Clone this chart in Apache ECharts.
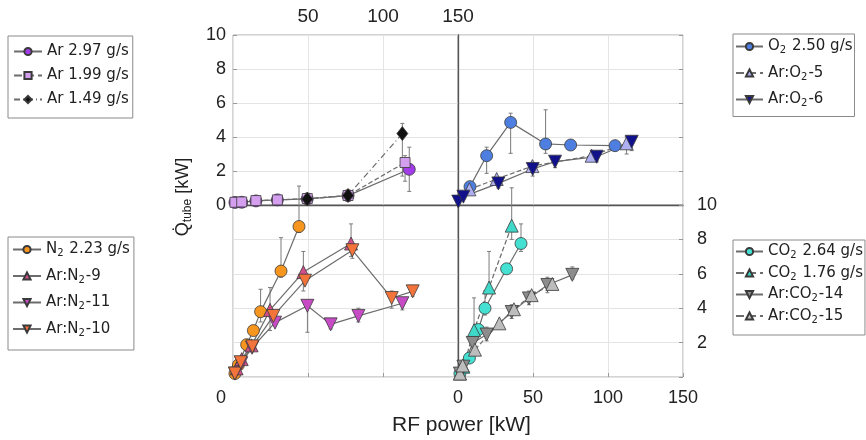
<!DOCTYPE html>
<html><head><meta charset="utf-8">
<script src="https://cdn.jsdelivr.net/npm/echarts@6/dist/echarts.min.js"></script>
<style>html,body{margin:0;padding:0;background:#fff}#c{width:866px;height:440px}</style>
</head><body><div id="c"></div>
<script>
// ---- axis ticks ----
const xTicks = [0, 50, 100, 150];
const yTicks = [0, 2, 4, 6, 8, 10];

// ---- top-left: argon ----
const ar297 = [[1.3,0.15],[5.8,0.16],[15.3,0.24],[29.6,0.3],[49.5,0.36],[76.7,0.55],[117.5,2.1]];
const ar199 = [[1.3,0.16],[5.8,0.18],[15.3,0.26],[29.6,0.3],[49.5,0.38],[76.7,0.56],[114.7,2.5]];
const ar149 = [[49.5,0.35],[76.7,0.56],[112.9,4.2]];
const errTL = [[117.5,0.8,3.4],[114.7,1.4,2.9],[112.9,1.7,4.8],[15.3,0.05,0.4],[29.6,0.1,0.45],[76.7,0.3,0.8]];

// ---- top-right: oxygen ----
const o2250 = [[8,1.08],[19.1,2.9],[35.1,4.86],[58.4,3.59],[75.1,3.53],[104.7,3.49]];
const arO2_5 = [[7.6,0.92],[25.8,1.53],[49.6,2.29],[89.1,2.9],[112.4,3.63]];
const arO2_6 = [[0.2,0.2],[3.6,0.49],[26.9,1.27],[49.8,2.12],[64.7,2.55],[92.4,2.84],[115.8,3.72]];
const errTR = [[19.1,1.86,3.4],[35.1,3.04,5.4],[58.4,3.04,5.6],[8,0.8,1.3],[26.9,1.0,1.6],[49.8,1.7,2.5],[64.7,2.2,2.8],[92.4,2.6,3.1],[115.8,3.2,4.0],[112.4,3.0,4.0]];

// ---- bottom-left: nitrogen ----
const n2223 = [[1.3,0.2],[3.6,0.7],[9.1,1.88],[13.6,2.7],[18.4,3.8],[32,6.16],[44,8.75]];
const arN2_9 = [[2.4,0.5],[5.8,1.04],[12.4,1.84],[24.7,3.9],[46.9,6.1],[78.7,7.76]];
const arN2_11 = [[1.3,0.2],[5.5,0.8],[12.7,1.7],[28,3.16],[49.6,4.14],[65.1,3.06],[83.6,3.55],[112.9,4.29]];
const arN2_10 = [[1.3,0.2],[5.1,0.86],[12.9,1.78],[26.9,3.55],[48,5.6],[79.6,7.37],[105.8,4.59],[119.8,4.98]];
const errBL = [[44,8.4,11.1],[32,5.8,8.1],[18.4,3.2,5.1],[24.7,2.7,5.2],[78.7,7.0,8.9],[46.9,5.0,7.3],[49.6,2.6,4.4],[65.1,2.8,3.4],[83.6,3.2,4.0],[112.9,3.9,4.6],[105.8,4.0,5.0],[119.8,4.7,5.3],[79.6,6.9,7.7]];

// ---- bottom-right: carbon dioxide ----
const co2264 = [[1.3,0.2],[7.6,1.1],[13.6,2.76],[18,4.0],[32.4,6.29],[42,7.76]];
const co2176 = [[1.3,0.2],[3.6,0.6],[10.7,2.72],[20.7,5.2],[35.8,8.8]];
const arCO2_14 = [[1.3,0.2],[3.6,0.6],[9.8,1.98],[19.1,2.47],[35.8,3.78],[47.3,4.57],[59.6,5.35],[76.2,5.94]];
const arCO2_15 = [[1.3,0.2],[3.1,0.67],[11.3,1.59],[27.6,3.12],[37.3,3.94],[49.1,4.76],[62.9,5.41]];
const errBR = [[42,7.3,8.9],[35.8,8.0,11.0],[20.7,5.0,7.3],[10.7,2.7,4.6],[18,3.6,5.0],[76.2,5.7,6.4],[59.6,4.9,5.8],[47.3,4.2,5.0],[35.8,3.4,4.2],[19.1,2.1,2.9]];

// ---- legend names ----
const legTL = ['Ar 2.97 g/s', 'Ar 1.99 g/s', 'Ar 1.49 g/s'];
const legTR = ['O_2 2.50 g/s', 'Ar:O_2-5', 'Ar:O_2-6'];
const legBL = ['N_2 2.23 g/s', 'Ar:N_2-9', 'Ar:N_2-11', 'Ar:N_2-10'];
const legBR = ['CO_2 2.64 g/s', 'CO_2 1.76 g/s', 'Ar:CO_2-14', 'Ar:CO_2-15'];

// ---- axis titles ----
const xTitle = 'RF power [kW]';
const yTitle = 'Q\u0307{s|tube} [kW]';

const chart = echarts.init(document.getElementById('c'), null, {renderer: 'canvas'});

const LINE = '#6c6c6c';
function S(name, data, xi, yi, symbol, size, color, dash, rot) {
  return {
    name, type: 'line', data, xAxisIndex: xi, yAxisIndex: yi, symbol, symbolSize: size,
    symbolRotate: rot || 0, clip: false, z: 3,
    lineStyle: {color: LINE, width: 1.2, type: dash},
    itemStyle: {color, borderColor: '#3a3a3a', borderWidth: 0.8},
    emphasis: {disabled: true}
  };
}
function E(data, xi, yi) {
  return {
    type: 'custom', data, xAxisIndex: xi, yAxisIndex: yi, clip: false, silent: true, z: 2,
    encode: {x: 0, y: [1, 2]},
    renderItem(params, api) {
      const x = api.value(0);
      const a = api.coord([x, api.value(1)]);
      const b = api.coord([x, api.value(2)]);
      const w = 2, st = {stroke: '#7a7a7a', lineWidth: 1};
      return {type: 'group', children: [
        {type: 'line', shape: {x1: a[0], y1: a[1], x2: b[0], y2: b[1]}, style: st},
        {type: 'line', shape: {x1: a[0]-w, y1: a[1], x2: a[0]+w, y2: a[1]}, style: st},
        {type: 'line', shape: {x1: b[0]-w, y1: b[1], x2: b[0]+w, y2: b[1]}, style: st}
      ]};
    }
  };
}

const lbl = {fontFamily: 'Liberation Sans', fontSize: 18, color: '#222'};
const split = {show: true, lineStyle: {color: '#e4e4e4', width: 1}};
const dark = {show: true, lineStyle: {color: '#555', width: 1.3}};
const tickIn = {show: true, inside: true, length: 4, lineStyle: {color: '#999'}};
const xBase = {type: 'value', min: xTicks[0], max: xTicks[xTicks.length-1], interval: 50};
const yBase = {type: 'value', min: yTicks[0], max: yTicks[yTicks.length-1], interval: 2};

const legCommon = {
  orient: 'vertical', backgroundColor: '#fff', borderColor: '#8a8a8a', borderWidth: 1,
  itemWidth: 28, itemHeight: 9, selectedMode: false,
  formatter: n => n.replace(/_(\d)/g, '{s|$1}'),
  textStyle: {fontFamily: 'DejaVu Sans', fontSize: 15, color: '#222',
    rich: {s: {fontFamily: 'DejaVu Sans', fontSize: 10, color: '#222', padding: [8, 1, 0, 0]}}}
};

const option = {
  animation: false,
  backgroundColor: '#fff',
  title: {text: xTitle, left: 387, top: 410,
    textStyle: {fontFamily: 'Liberation Sans', fontSize: 21, fontWeight: 'normal', color: '#222'}},
  graphic: [{
    type: 'text', x: 183, y: 197, rotation: Math.PI / 2,
    style: {text: yTitle, align: 'center', verticalAlign: 'middle',
      fontFamily: 'Liberation Sans', fontSize: 18, fill: '#222',
      rich: {s: {fontFamily: 'Liberation Sans', fontSize: 12, fill: '#222', padding: [9, 0, 0, 0]}}}
  }],
  grid: [
    {left: 233, top: 35, width: 225, height: 170, show: true, borderColor: '#aaa', borderWidth: 1},
    {left: 458, top: 35, width: 225, height: 170, show: true, borderColor: '#aaa', borderWidth: 1},
    {left: 233, top: 205, width: 225, height: 172, show: true, borderColor: '#aaa', borderWidth: 1},
    {left: 458, top: 205, width: 225, height: 172, show: true, borderColor: '#aaa', borderWidth: 1}
  ],
  xAxis: [
    Object.assign({gridIndex: 0, position: 'top', axisLine: {show: false}, axisTick: {show: false},
      splitLine: split, axisLabel: Object.assign({}, lbl, {fontSize: 19, margin: 9, formatter: v => v === 0 ? '' : String(v)})}, xBase),
    Object.assign({gridIndex: 0, position: 'bottom', axisLine: dark, axisTick: {show: false},
      axisLabel: {show: false}, splitLine: {show: false}}, xBase),
    Object.assign({gridIndex: 1, position: 'bottom', axisLine: dark, axisTick: {show: false},
      axisLabel: {show: false}, splitLine: split}, xBase),
    Object.assign({gridIndex: 2, position: 'bottom', axisLine: {show: false}, axisTick: tickIn,
      splitLine: split, axisLabel: Object.assign({margin: 12, padding: [0, 24, 0, 0], formatter: v => v === 0 ? '0' : ''}, lbl)}, xBase),
    Object.assign({gridIndex: 3, position: 'bottom', axisLine: {show: false}, axisTick: tickIn,
      splitLine: split, axisLabel: Object.assign({margin: 12}, lbl)}, xBase)
  ],
  yAxis: [
    Object.assign({gridIndex: 0, position: 'left', axisLine: {show: false}, axisTick: tickIn,
      splitLine: split, axisLabel: Object.assign({margin: 7}, lbl)}, yBase),
    Object.assign({gridIndex: 1, position: 'left', axisLine: dark, axisTick: {show: false},
      axisLabel: {show: false}, splitLine: split}, yBase),
    Object.assign({gridIndex: 1, position: 'right', axisLine: {show: false}, axisTick: tickIn,
      axisLabel: {show: false}, splitLine: {show: false}}, yBase),
    Object.assign({gridIndex: 2, position: 'left', axisLine: {show: false}, axisTick: {show: false},
      axisLabel: {show: false}, splitLine: split}, yBase),
    Object.assign({gridIndex: 3, position: 'left', axisLine: dark, axisTick: {show: false},
      axisLabel: {show: false}, splitLine: split}, yBase),
    Object.assign({gridIndex: 3, position: 'right', axisLine: {show: false}, axisTick: tickIn,
      axisLabel: Object.assign({margin: 14, formatter: v => v === 0 ? '' : String(v)}, lbl), splitLine: {show: false}}, yBase)
  ],
  legend: [
    Object.assign({}, legCommon, {data: legTL, left: 8, top: 36, itemGap: 9, padding: [8, 4, 11, 5]}),
    Object.assign({}, legCommon, {data: legTR, left: 733, top: 34, itemGap: 10, itemWidth: 27, padding: [5, 2, 8, 2]}),
    Object.assign({}, legCommon, {data: legBL, left: 8, top: 237, itemGap: 10, padding: [5, 4, 12, 4]}),
    Object.assign({}, legCommon, {data: legBR, left: 733, top: 240, itemGap: 5, itemWidth: 27, padding: [4, 2, 10, 2]})
  ],
  series: [
    E(errTL, 0, 0), E(errTR, 2, 1), E(errBL, 3, 3), E(errBR, 4, 4),
    S(legTL[0], ar297, 0, 0, 'circle', 12, '#a23ce8', 'solid'),
    S(legTL[1], ar199, 0, 0, 'rect', 10, '#d59ff0', 'dashed'),
    S(legTL[2], ar149, 0, 0, 'diamond', [11, 14], '#111', [6, 3, 1, 3]),
    S(legTR[0], o2250, 2, 1, 'circle', 12, '#4d7ee0', 'solid'),
    S(legTR[1], arO2_5, 2, 1, 'triangle', 13, '#aeb0f2', 'dashed'),
    S(legTR[2], arO2_6, 2, 1, 'triangle', 13, '#11118c', 'solid', 180),
    S(legBL[0], n2223, 3, 3, 'circle', 12, '#f7961f', 'solid'),
    S(legBL[1], arN2_9, 3, 3, 'triangle', 13, '#d24f8c', 'solid'),
    S(legBL[2], arN2_11, 3, 3, 'triangle', 13, '#c84bc6', 'solid', 180),
    S(legBL[3], arN2_10, 3, 3, 'triangle', 13, '#f2743a', 'solid', 180),
    S(legBR[0], co2264, 4, 4, 'circle', 12, '#44e0d2', 'solid'),
    S(legBR[1], co2176, 4, 4, 'triangle', 13, '#3fd9c9', 'dashed'),
    S(legBR[2], arCO2_14, 4, 4, 'triangle', 13, '#8c8c8c', 'solid', 180),
    S(legBR[3], arCO2_15, 4, 4, 'triangle', 13, '#bdbdbd', 'dashed')
  ]
};
chart.setOption(option);
</script></body></html>
